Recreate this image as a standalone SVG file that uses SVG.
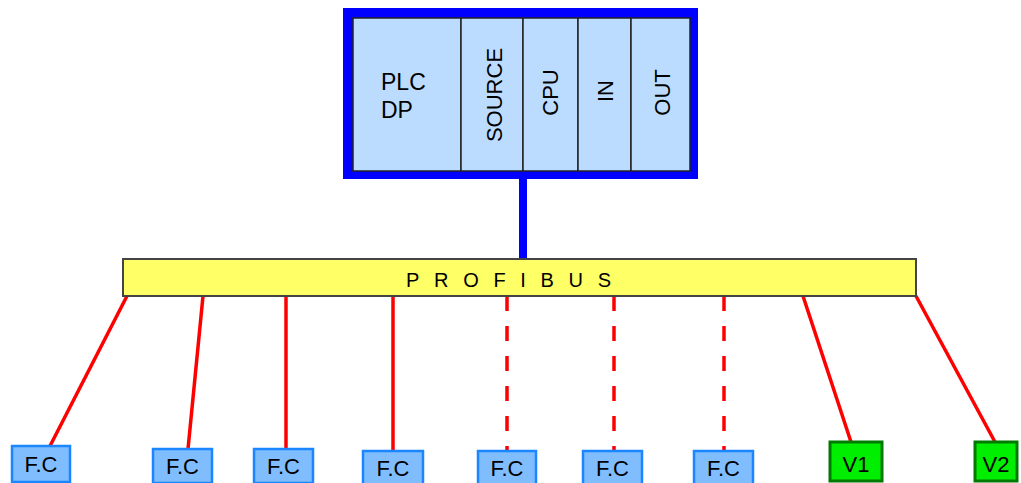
<svg xmlns="http://www.w3.org/2000/svg" width="1021" height="483" viewBox="0 0 1021 483">
<style>
text{font-family:"Liberation Sans",Arial,sans-serif;fill:#000}
.mod{fill:#bcdcff;stroke:#222;stroke-width:1.5}
.lbl{font-size:23px}
.vl{font-size:22px;text-anchor:middle}
.fc rect{fill:#80bdff;stroke:#1a86ff;stroke-width:2.5}
.v rect{fill:#00ee00;stroke:#007a00;stroke-width:3}
.bx{font-size:22px;text-anchor:middle}
.wire{stroke:#ff0000;stroke-width:3.5;fill:none}
.dash{stroke-dasharray:15 15}
</style>
<g id="connectors">
<line x1="523" y1="178" x2="523" y2="260" stroke="#0000ff" stroke-width="8"/>
<line class="wire" x1="127" y1="296" x2="50" y2="446"/>
<line class="wire" x1="203" y1="296" x2="188" y2="449"/>
<line class="wire" x1="286" y1="296" x2="286" y2="449"/>
<line class="wire" x1="393" y1="296" x2="393" y2="451"/>
<line class="wire dash" x1="507" y1="296" x2="507" y2="451"/>
<line class="wire dash" x1="614" y1="296" x2="614" y2="451"/>
<line class="wire dash" x1="724" y1="296" x2="724" y2="451"/>
<line class="wire" x1="803" y1="296" x2="851" y2="442"/>
<line class="wire" x1="916" y1="296" x2="995" y2="442"/>
</g>
<g id="plc">
<rect x="343" y="8" width="355" height="171" fill="#0000ff"/>
<rect x="353" y="18" width="108" height="153" class="mod"/>
<rect x="461" y="18" width="62" height="153" class="mod"/>
<rect x="523" y="18" width="55" height="153" class="mod"/>
<rect x="578" y="18" width="53" height="153" class="mod"/>
<rect x="631" y="18" width="59" height="153" class="mod"/>
<text class="lbl" x="381" y="90">PLC</text>
<text class="lbl" x="381" y="118">DP</text>
<text class="vl" transform="translate(502,95) rotate(-90)">SOURCE</text>
<text class="vl" transform="translate(558,92.5) rotate(-90)">CPU</text>
<text class="vl" transform="translate(613,91) rotate(-90)">IN</text>
<text class="vl" transform="translate(670,92.5) rotate(-90)">OUT</text>
</g>
<g id="profibus">
<rect x="123" y="259" width="793" height="37" fill="#ffff66" stroke="#444" stroke-width="2"/>
<text x="406" y="287" font-size="20" textLength="205" lengthAdjust="spacing">PROFIBUS</text>
</g>
<g id="fc1" class="fc"><rect x="12" y="446" width="58" height="36"/><text class="bx" x="41" y="472">F.C</text></g>
<g id="fc2" class="fc"><rect x="153" y="449" width="59" height="34"/><text class="bx" x="182.5" y="474">F.C</text></g>
<g id="fc3" class="fc"><rect x="254" y="449" width="59" height="34"/><text class="bx" x="283.5" y="474">F.C</text></g>
<g id="fc4" class="fc"><rect x="363" y="451" width="60" height="34"/><text class="bx" x="393" y="476">F.C</text></g>
<g id="fc5" class="fc"><rect x="478" y="451" width="58" height="34"/><text class="bx" x="507" y="476">F.C</text></g>
<g id="fc6" class="fc"><rect x="583" y="451" width="59" height="34"/><text class="bx" x="612.5" y="476">F.C</text></g>
<g id="fc7" class="fc"><rect x="694" y="451" width="59" height="34"/><text class="bx" x="723.5" y="476">F.C</text></g>
<g id="v1" class="v"><rect x="830" y="442" width="52" height="39"/><text class="bx" x="856" y="472">V1</text></g>
<g id="v2" class="v"><rect x="975" y="442" width="42" height="39"/><text class="bx" x="996" y="472">V2</text></g>
</svg>
